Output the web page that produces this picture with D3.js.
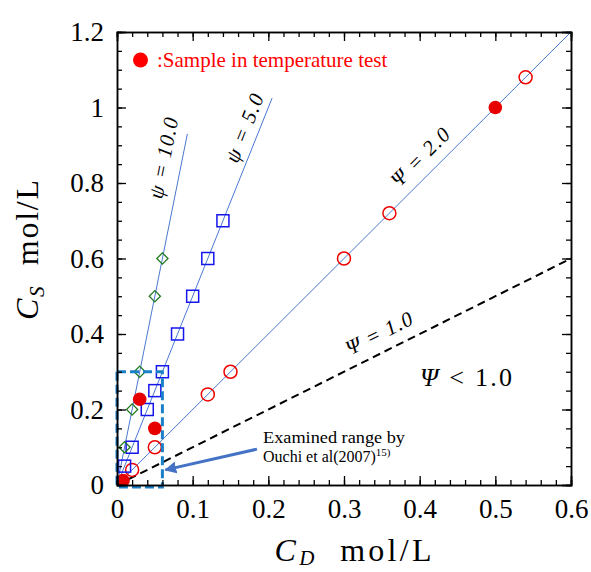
<!DOCTYPE html>
<html><head><meta charset="utf-8">
<script src="https://cdn.jsdelivr.net/npm/d3@7"></script>
<style>body{margin:0;background:#fff}svg{display:block}text{font-family:"Liberation Serif","Times New Roman",serif}</style>
</head><body><svg id="c" width="591" height="572"></svg>
<script>
// ---- data ----
const xTicks = [0, 0.1, 0.2, 0.3, 0.4, 0.5, 0.6];
const xTickLabels = ["0", "0.1", "0.2", "0.3", "0.4", "0.5", "0.6"];
const yTicks = [0, 0.2, 0.4, 0.6, 0.8, 1.0, 1.2];
const yTickLabels = ["0", "0.2", "0.4", "0.6", "0.8", "1", "1.2"];
// psi = 2.0 (open red circles)
const psi2CD = [0.02, 0.05, 0.12, 0.15, 0.30, 0.36, 0.54];
const psi2CS = [0.04, 0.10, 0.24, 0.30, 0.60, 0.72, 1.08];
// psi = 5.0 (open blue squares)
const psi5CD = [0.01, 0.02, 0.04, 0.05, 0.06, 0.08, 0.10, 0.12, 0.14];
const psi5CS = [0.05, 0.10, 0.20, 0.25, 0.30, 0.40, 0.50, 0.60, 0.70];
// psi = 10.0 (open green diamonds)
const psi10CD = [0.01, 0.02, 0.03, 0.05, 0.06];
const psi10CS = [0.10, 0.20, 0.30, 0.50, 0.60];
// samples in temperature test (filled red)
const tempCD = [0.008, 0.03, 0.05, 0.50];
const tempCS = [0.012, 0.227, 0.15, 1.00];
// reference lines: psi, end CD
const lineNames = ["\u03C8 = 10.0", "\u03C8 = 5.0", "\u03A8 = 2.0", "\u03A8 = 1.0"];
const linePsi = [10, 5, 2, 1];
const lineEndCD = [0.093, 0.205, 0.6, 0.6];
// Ouchi et al. examined range box (CD, CS)
const boxCD = [0, 0.06];
const boxCS = [-0.005, 0.3];

// ---- layout ----
const svg = d3.select("#c");
const x = d3.scaleLinear().domain([0, 0.6]).range([117, 571]);
const y = d3.scaleLinear().domain([0, 1.2]).range([485, 32]);
const lineBlue = "#4a78d0";

// axes
const minorX = d3.range(0, 0.6001, 0.02);
const minorY = d3.range(0, 1.2001, 0.05);
function axes() {
  const gB = svg.append("g").attr("transform", `translate(0,${y(0)})`);
  gB.call(d3.axisBottom(x).tickValues(minorX).tickSize(-5).tickFormat(""));
  gB.append("g").call(d3.axisBottom(x).tickValues(xTicks).tickSize(-9).tickPadding(14)
      .tickFormat((d, i) => xTickLabels[i]));
  const gT = svg.append("g").attr("transform", `translate(0,${y(1.2)})`);
  gT.call(d3.axisTop(x).tickValues(minorX).tickSize(-5).tickFormat(""));
  gT.append("g").call(d3.axisTop(x).tickValues(xTicks).tickSize(-9).tickFormat(""));
  const gL = svg.append("g").attr("transform", `translate(${x(0)},0)`);
  gL.call(d3.axisLeft(y).tickValues(minorY).tickSize(-5).tickFormat(""));
  gL.append("g").call(d3.axisLeft(y).tickValues(yTicks).tickSize(-9).tickPadding(13)
      .tickFormat((d, i) => yTickLabels[i]));
  const gR = svg.append("g").attr("transform", `translate(${x(0.6)},0)`);
  gR.call(d3.axisRight(y).tickValues(minorY).tickSize(-5).tickFormat(""));
  gR.append("g").call(d3.axisRight(y).tickValues(yTicks).tickSize(-9).tickFormat(""));
  svg.selectAll(".domain").attr("stroke", "#000").attr("stroke-width", 1.5);
  svg.selectAll(".tick line").attr("stroke", "#000").attr("stroke-width", 1.3);
  svg.selectAll(".tick text").attr("font-size", 27).attr("fill", "#000");
}

// reference lines
linePsi.forEach((p, i) => {
  const e = lineEndCD[i];
  svg.append("line").attr("x1", x(0)).attr("y1", y(0)).attr("x2", x(e)).attr("y2", y(e * p))
    .attr("stroke", p === 1 ? "#000" : lineBlue)
    .attr("stroke-width", p === 1 ? 2 : 1)
    .attr("stroke-dasharray", p === 1 ? "8,5" : null);
});

// markers
psi2CD.forEach((d, i) => svg.append("circle").attr("cx", x(d)).attr("cy", y(psi2CS[i])).attr("r", 6.5)
  .attr("fill", "none").attr("stroke", "#ee0000").attr("stroke-width", 1.5));
psi5CD.forEach((d, i) => svg.append("rect").attr("x", x(d) - 6).attr("y", y(psi5CS[i]) - 6)
  .attr("width", 12).attr("height", 12).attr("fill", "none").attr("stroke", "#1515ee").attr("stroke-width", 1.5));
psi10CD.forEach((d, i) => svg.append("path")
  .attr("d", d3.symbol().type(d3.symbolDiamond2).size(80)())
  .attr("transform", `translate(${x(d)},${y(psi10CS[i])})`)
  .attr("fill", "none").attr("stroke", "#1f7a1f").attr("stroke-width", 1.3));
tempCD.forEach((d, i) => svg.append("circle").attr("cx", x(d)).attr("cy", y(tempCS[i])).attr("r", 6.8)
  .attr("fill", "#e60000"));

// dashed examined range box
svg.append("rect").attr("x", x(boxCD[0])).attr("y", y(boxCS[1]))
  .attr("width", x(boxCD[1]) - x(boxCD[0])).attr("height", y(boxCS[0]) - y(boxCS[1]))
  .attr("fill", "none").attr("stroke", "#1a80c8").attr("stroke-width", 3).attr("stroke-dasharray", "9,4");

axes();

// arrow
const arrowFrom = [0.185, 0.095], arrowTo = [0.064, 0.040];
svg.append("defs").append("marker").attr("id", "ah").attr("viewBox", "0 0 10 10")
  .attr("refX", 9).attr("refY", 5).attr("markerWidth", 4).attr("markerHeight", 4).attr("orient", "auto")
  .append("path").attr("d", "M0,0L10,5L0,10z").attr("fill", "#4472c4");
svg.append("line").attr("x1", x(arrowFrom[0])).attr("y1", y(arrowFrom[1]))
  .attr("x2", x(arrowTo[0])).attr("y2", y(arrowTo[1]))
  .attr("stroke", "#4472c4").attr("stroke-width", 3).attr("marker-end", "url(#ah)");

// annotation text
const ann = svg.append("text").attr("font-size", 16).attr("fill", "#000");
ann.append("tspan").attr("x", 263).attr("y", 443).attr("textLength", 142).attr("lengthAdjust", "spacingAndGlyphs").text("Examined range by");
ann.append("tspan").attr("x", 263).attr("y", 462).text("Ouchi et al(2007)");
ann.append("tspan").attr("font-size", 11).attr("dy", -6).text("15)");

// legend
svg.append("circle").attr("cx", 140.5).attr("cy", 60).attr("r", 7.5).attr("fill", "#ff0000");
svg.append("text").attr("x", 157).attr("y", 67).attr("font-size", 21).attr("fill", "#ff0000")
  .text(":Sample in temperature test");

// psi labels
const labelPos = [[163, 158], [244, 128], [420, 157], [379, 333]];
const labelLen = [82, 72, 74, 72];
linePsi.forEach((p, i) => {
  const ang = Math.atan(p * (y(0) - y(1)) / (x(1) - x(0))) * 180 / Math.PI;
  svg.append("text").attr("transform", `translate(${labelPos[i][0]},${labelPos[i][1]}) rotate(${-ang})`)
    .attr("text-anchor", "middle").attr("dy", "0.35em").attr("font-size", 21).attr("font-style", "italic")
    .attr("textLength", labelLen[i]).attr("lengthAdjust", "spacing")
    .text(lineNames[i]);
});
const lt = svg.append("text").attr("x", 420).attr("y", 386).attr("font-size", 26)
  .attr("textLength", 92).attr("lengthAdjust", "spacing");
lt.append("tspan").attr("font-style", "italic").text("\u03A8");
lt.append("tspan").text(" < 1.0");

// axis titles
const yt = svg.append("text").attr("transform", "translate(38,250) rotate(-90)").attr("text-anchor", "middle")
  .attr("font-size", 32).attr("textLength", 140).attr("lengthAdjust", "spacing");
yt.append("tspan").attr("font-style", "italic").text("C");
yt.append("tspan").attr("font-style", "italic").attr("font-size", 21).attr("dy", 6).text("S");
yt.append("tspan").attr("dy", -6).text("\u00A0\u00A0mol/L");
const xt = svg.append("text").attr("x", 353).attr("y", 561).attr("text-anchor", "middle")
  .attr("font-size", 32).attr("textLength", 157).attr("lengthAdjust", "spacing");
xt.append("tspan").attr("font-style", "italic").text("C");
xt.append("tspan").attr("font-style", "italic").attr("font-size", 21).attr("dy", 4).text("D");
xt.append("tspan").attr("dy", -4).text("\u00A0\u00A0mol/L");
</script></body></html>
